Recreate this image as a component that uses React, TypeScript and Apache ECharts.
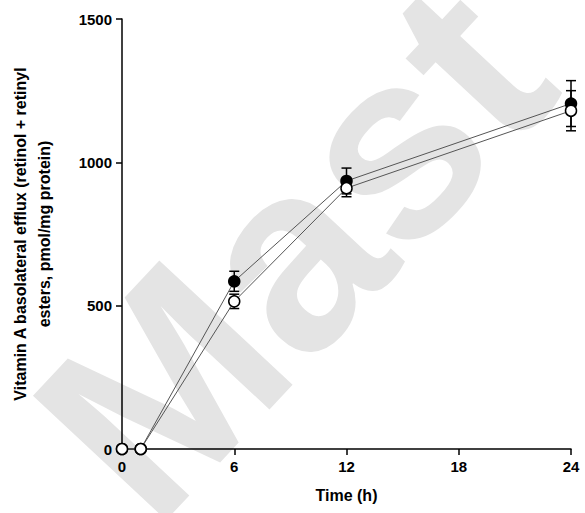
import React, { useEffect, useRef } from "react";
import * as echarts from "echarts";

// time points (h) and mean values
const times = [0, 1, 6, 12, 24];
const filledMean = [0, 0, 585, 935, 1205];
const filledErr = [0, 0, 35, 45, 80];
const openMean = [0, 0, 515, 910, 1180];
const openErr = [0, 0, 25, 30, 70];
const xTicks = [0, 6, 12, 18, 24];
const yTicks = [0, 500, 1000, 1500];

const errorSeries = (mean: number[], err: number[]) => ({
  type: "custom",
  z: 1,
  data: times.map((t, i) => [t, mean[i] - err[i], mean[i] + err[i]]),
  renderItem: (_p: any, api: any) => {
    if (api.value(2) - api.value(1) <= 0) return null;
    const lo = api.coord([api.value(0), api.value(1)]);
    const hi = api.coord([api.value(0), api.value(2)]);
    const w = 5;
    const style = { stroke: "#000", lineWidth: 1.5 };
    return {
      type: "group",
      children: [
        { type: "line", shape: { x1: lo[0], y1: lo[1], x2: hi[0], y2: hi[1] }, style },
        { type: "line", shape: { x1: lo[0] - w, y1: lo[1], x2: lo[0] + w, y2: lo[1] }, style },
        { type: "line", shape: { x1: hi[0] - w, y1: hi[1], x2: hi[0] + w, y2: hi[1] }, style },
      ],
    };
  },
});

const App: React.FC = () => {
  const chartRef = useRef<HTMLDivElement>(null);

  useEffect(() => {
    document.body.style.margin = "0";
    const myChart = echarts.init(chartRef.current, null, { renderer: "svg" });
    const font = "Arial, 'Liberation Sans', sans-serif";
    myChart.setOption({
      animation: false,
      textStyle: { fontFamily: font },
      graphic: [
        {
          type: "text",
          z: -10,
          x: -10,
          y: 380,
          rotation: 0.82,
          style: { text: "Mast", fontSize: 265, fontWeight: "bold", fill: "#e4e4e4", fontFamily: font },
        },
      ],
      grid: { left: 120, right: 14, top: 19, bottom: 64 },
      xAxis: {
        type: "value",
        min: 0,
        max: 24,
        interval: 6,
        name: "Time (h)",
        nameLocation: "middle",
        nameGap: 38,
        nameTextStyle: { fontSize: 16, fontWeight: "bold", color: "#000" },
        axisLine: { onZero: false, lineStyle: { color: "#000", width: 1.5 } },
        axisTick: { show: true, length: 6, lineStyle: { color: "#000", width: 1.5 } },
        axisLabel: { fontSize: 15, fontWeight: "bold", color: "#000", margin: 10,
          formatter: (v: number) => (xTicks.includes(v) ? String(v) : "") },
        splitLine: { show: false },
      },
      yAxis: {
        type: "value",
        min: 0,
        max: 1500,
        interval: 500,
        name: "Vitamin A basolateral efflux (retinol + retinyl\nesters, pmol/mg protein)",
        nameLocation: "middle",
        nameGap: 66,
        nameTextStyle: { fontSize: 16, fontWeight: "bold", color: "#000", lineHeight: 24 },
        axisLine: { show: true, lineStyle: { color: "#000", width: 1.5 } },
        axisTick: { show: true, length: 6, lineStyle: { color: "#000", width: 1.5 } },
        axisLabel: { fontSize: 15, fontWeight: "bold", color: "#000", margin: 10,
          formatter: (v: number) => (yTicks.includes(v) ? String(v) : "") },
        splitLine: { show: false },
      },
      series: [
        errorSeries(filledMean, filledErr),
        errorSeries(openMean, openErr),
        {
          type: "line",
          z: 3,
          data: times.map((t, i) => [t, filledMean[i]]),
          symbol: "circle",
          symbolSize: 11,
          lineStyle: { color: "#555", width: 1 },
          itemStyle: { color: "#000", borderColor: "#000", borderWidth: 1.5 },
        },
        {
          type: "line",
          z: 4,
          data: times.map((t, i) => [t, openMean[i]]),
          symbol: "circle",
          symbolSize: 11,
          lineStyle: { color: "#555", width: 1 },
          itemStyle: { color: "#fff", borderColor: "#000", borderWidth: 1.5 },
        },
      ],
    });
    return () => myChart.dispose();
  }, []);

  return <div ref={chartRef} style={{ width: 585, height: 513 }} />;
};

export default App;
